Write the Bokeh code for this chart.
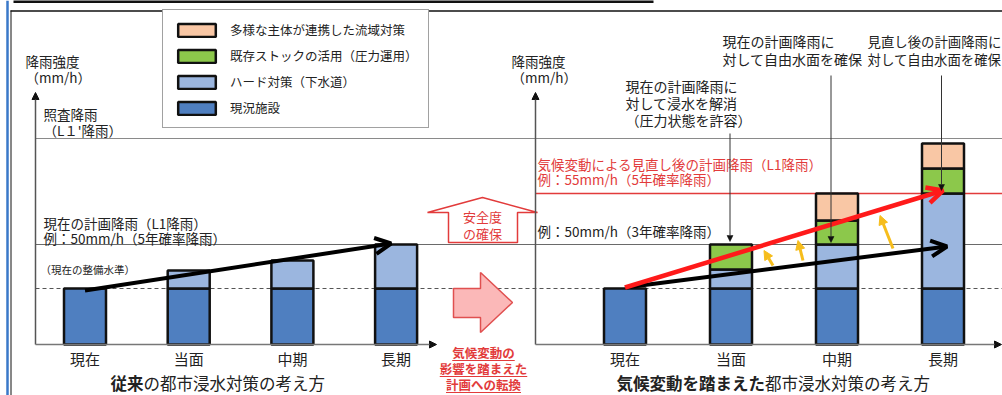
from bokeh.plotting import figure
from bokeh.models import (Range1d, Arrow, OpenHead, NormalHead, Legend,
                          LegendItem, ColumnDataSource)
from bokeh.core.properties import value
from bokeh.embed import file_html
from bokeh.resources import INLINE

FONT = "Noto Sans CJK JP"

# ---------------- data (relative rainfall-intensity units above the baseline) -------------
categories = ["現在", "当面", "中期", "長期"]

# 従来の都市浸水対策 (left panel)
left_existing = [56, 56, 56, 56]     # 現況施設
left_hard = [0, 18, 28, 44]          # ハード対策（下水道）

# 気候変動を踏まえた都市浸水対策 (right panel)
right_existing = [56, 56, 56, 56]    # 現況施設
right_hard = [0, 19, 44, 95]         # ハード対策（下水道）
right_stock = [0, 25, 24, 25]        # 既存ストックの活用（圧力運用）
right_basin = [0, 0, 27, 25]         # 多様な主体が連携した流域対策

level_current = 56    # 現在の整備水準
level_l1 = 100        # 現在の計画降雨（L1） 50mm/h
level_l1_new = 151    # 見直し後の計画降雨（L1） 55mm/h
level_check = 206     # 照査降雨（L1'）

legend_labels = ["多様な主体が連携した流域対策", "既存ストックの活用（圧力運用）",
                 "ハード対策（下水道）", "現況施設"]

# ---------------- layout ----------------
W, H = 1002, 395
BASE = 344                     # pixel row of the baseline


def Y(px):
    """pixel row -> level units (placement helper)"""
    return BASE - px


LX0, LDX = 84.5, 103.7         # left panel category centres
RX0, RDX = 624.5, 106.0        # right panel category centres
BAR_W = 42
lc = [LX0 + i * LDX for i in range(len(categories))]
rc = [RX0 + i * RDX for i in range(len(categories))]
L_AXIS, R_AXIS = 35, 535

C_EXIST = "#4f7fc0"
C_HARD = "#9bb6df"
C_STOCK = "#8cc84b"
C_BASIN = "#f9c7a5"
OUTLINE = "#111111"
RED = "#e23b3b"
TXT = "#222222"

p = figure(width=W, height=H, x_range=Range1d(0, W), y_range=Range1d(BASE - H, BASE),
           output_backend="svg", toolbar_location=None, min_border=0,
           x_axis_type=None, y_axis_type=None)
p.outline_line_color = None
p.background_fill_color = "white"
p.border_fill_color = "white"

# ---- frame decorations ----
p.segment(x0=[7], y0=[Y(0)], x1=[7], y1=[Y(H)], line_color="#3a78c9", line_width=2.5)
p.segment(x0=[10.5], y0=[Y(10)], x1=[10.5], y1=[Y(H)], line_color="#111", line_width=1)
p.segment(x0=[10], y0=[Y(10.5)], x1=[W], y1=[Y(10.5)], line_color="#111", line_width=1.5)
p.segment(x0=[13], y0=[Y(1)], x1=[653], y1=[Y(1)], line_color="#111", line_width=3)

# ---- reference lines ----
p.segment(x0=[L_AXIS], y0=[level_check], x1=[W], y1=[level_check], line_color="#8a8a8a", line_width=1.2)
p.segment(x0=[L_AXIS], y0=[level_l1], x1=[W], y1=[level_l1], line_color="#6a6a6a", line_width=1.2)
p.segment(x0=[R_AXIS], y0=[level_l1_new], x1=[W], y1=[level_l1_new], line_color=RED, line_width=1.5)
p.segment(x0=[L_AXIS], y0=[level_current], x1=[W], y1=[level_current], line_color="#555",
          line_width=1, line_dash="4 3")


# ---- stacked bars ----
def stack_sources():
    srcs = {k: dict(x=[], bottom=[], top=[]) for k in ("exist", "hard", "stock", "basin")}
    panels = [(lc, [("exist", left_existing), ("hard", left_hard)]),
              (rc, [("exist", right_existing), ("hard", right_hard),
                    ("stock", right_stock), ("basin", right_basin)])]
    for centres, layers in panels:
        for i, cx in enumerate(centres):
            b = 0
            for key, vals in layers:
                v = vals[i]
                if v > 0:
                    srcs[key]["x"].append(cx)
                    srcs[key]["bottom"].append(b)
                    srcs[key]["top"].append(b + v)
                b += v
    return {k: ColumnDataSource(v) for k, v in srcs.items()}


srcs = stack_sources()
rends = {}
for key, col in (("exist", C_EXIST), ("hard", C_HARD), ("stock", C_STOCK), ("basin", C_BASIN)):
    rends[key] = p.vbar(x="x", bottom="bottom", top="top", width=BAR_W, source=srcs[key],
                        fill_color=col, line_color=OUTLINE, line_width=2.5)

# ---- axes (drawn as arrows) ----
for ax in (L_AXIS, R_AXIS):
    p.add_layout(Arrow(x_start=ax, y_start=0, x_end=ax, y_end=Y(92),
                       line_color="#555", line_width=1.5,
                       end=NormalHead(size=7, fill_color="#111", line_color="#111")))
p.add_layout(Arrow(x_start=L_AXIS, y_start=0, x_end=436, y_end=0, line_color="#777", line_width=1.5,
                   end=NormalHead(size=7, fill_color="#111", line_color="#111")))
p.add_layout(Arrow(x_start=R_AXIS, y_start=0, x_end=1001, y_end=0, line_color="#777", line_width=1.5,
                   end=NormalHead(size=7, fill_color="#111", line_color="#111")))

# ---- middle shapes ----
p.patch(x=[448, 448, 427, 482, 537, 517, 517],
        y=[Y(242), Y(212), Y(212), Y(197), Y(212), Y(212), Y(242)],
        fill_color="white", line_color=RED, line_width=1.5)
p.patch(x=[453, 480, 480, 512, 480, 480, 453],
        y=[Y(288), Y(288), Y(272), Y(302), Y(332), Y(317), Y(317)],
        fill_color="#fbb8b8", line_color="#e05050", line_width=1.5)

# ---- trend arrows ----
p.add_layout(Arrow(x_start=lc[0], y_start=level_current - 2, x_end=lc[3] - 5, y_end=level_l1 + 1,
                   line_color="black", line_width=4,
                   end=OpenHead(size=16, line_width=4, line_color="black")))
p.add_layout(Arrow(x_start=rc[0], y_start=level_current + 1, x_end=rc[3] + 4, y_end=level_l1 - 2,
                   line_color="black", line_width=4,
                   end=OpenHead(size=16, line_width=4, line_color="black")))
p.add_layout(Arrow(x_start=rc[0], y_start=level_current + 1, x_end=rc[3], y_end=level_l1_new + 3,
                   line_color="#ff1a1a", line_width=4.5,
                   end=OpenHead(size=16, line_width=4.5, line_color="#ff1a1a")))

YEL = "#f6bd1c"
for xs, ys, xe, ye in ((rc[1] + 42, Y(265), rc[1] + 33, Y(250)),
                       (rc[2] - 34, Y(260), rc[2] - 39, Y(240)),
                       (rc[3] - 50, Y(248), rc[3] - 63, Y(215))):
    p.add_layout(Arrow(x_start=xs, y_start=ys, x_end=xe, y_end=ye, line_color=YEL, line_width=3,
                       end=NormalHead(size=9, fill_color=YEL, line_color=YEL)))

# ---- annotation pointer lines ----
for xv, ys, ye in ((rc[1] - 1, Y(133), Y(241)), (rc[2] - 6, Y(75), Y(242)), (rc[3] - 1.5, Y(75), Y(190))):
    p.add_layout(Arrow(x_start=xv, y_start=ys, x_end=xv, y_end=ye, line_color="#333", line_width=1,
                       end=NormalHead(size=6, fill_color="#111", line_color="#111", line_width=0.5)))


# ---- texts ----
def txt(x, ypx, s, size, color=TXT, bold=False, align="left"):
    p.text(x=[x], y=[Y(ypx)], text=[s], text_font=value(FONT), text_font_size=f"{size}px",
           text_color=color, text_baseline="middle", text_align=align,
           text_font_style="bold" if bold else "normal")


txt(25, 60, "降雨強度", 13.5)
txt(25, 76, "（mm/h）", 13.5)
txt(43, 113, "照査降雨", 13.5)
txt(43, 129, "（L１'降雨）", 13.5)
txt(43, 222, "現在の計画降雨（L1降雨）", 13.5)
txt(43, 237, "例：50mm/h（5年確率降雨）", 13.5)
txt(40, 269, "（現在の整備水準）", 10.5)

txt(511, 60, "降雨強度", 13.5)
txt(511, 76, "（mm/h）", 13.5)
txt(625, 85, "現在の計画降雨に", 14)
txt(625, 102, "対して浸水を解消", 14)
txt(625, 119, "（圧力状態を許容）", 14)
txt(722, 40, "現在の計画降雨に", 14)
txt(722, 58, "対して自由水面を確保", 14)
txt(867, 40, "見直し後の計画降雨に", 13.4)
txt(867, 58, "対して自由水面を確保", 13.4)
txt(537, 163, "気候変動による見直し後の計画降雨（L1降雨）", 13.5, color=RED)
txt(537, 178, "例：55mm/h（5年確率降雨）", 13.5, color=RED)
txt(537, 230, "例：50mm/h（3年確率降雨）", 13.5)

txt(482, 216, "安全度", 13, color=RED, align="center")
txt(482, 233, "の確保", 13, color=RED, align="center")

for i, c in enumerate(categories):
    txt(lc[i], 358, c, 15, align="center")
    txt(rc[i], 358, c, 15, align="center")

TS = 16.5
txt(110, 382.5, "従来", TS, bold=True)
txt(110 + 2 * TS, 382.5, "の都市浸水対策の考え方", TS)
txt(616, 382.5, "気候変動を踏まえた", TS, bold=True)
txt(616 + 9 * TS, 382.5, "都市浸水対策の考え方", TS)

for ypx, s, wch in ((352, "気候変動の", 5), (368, "影響を踏まえた", 7), (384, "計画への転換", 6)):
    txt(483, ypx, s, 12.5, color=RED, bold=True, align="center")
    half = wch * 12.5 / 2
    p.segment(x0=[483 - half], y0=[Y(ypx + 8)], x1=[483 + half], y1=[Y(ypx + 8)],
              line_color=RED, line_width=1)

# ---- legend ----
legend = Legend(items=[LegendItem(label=legend_labels[0], renderers=[rends["basin"]]),
                       LegendItem(label=legend_labels[1], renderers=[rends["stock"]]),
                       LegendItem(label=legend_labels[2], renderers=[rends["hard"]]),
                       LegendItem(label=legend_labels[3], renderers=[rends["exist"]])],
                location=(162, 267), glyph_width=47, glyph_height=16, label_height=16,
                label_standoff=10, spacing=7, padding=10, margin=0,
                label_text_font=FONT, label_text_font_size="12.5px", label_text_color=TXT,
                border_line_color="#444", border_line_width=1.5,
                background_fill_color="white", background_fill_alpha=1.0)
p.add_layout(legend)

open("out.html", "w").write(file_html(p, INLINE))
